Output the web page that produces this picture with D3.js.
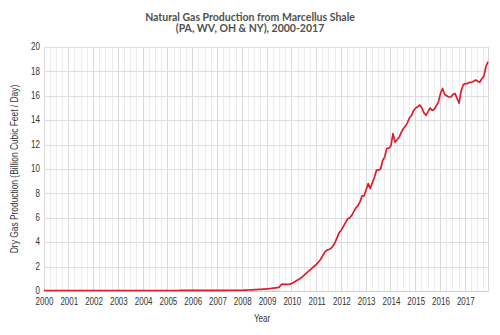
<!DOCTYPE html>
<html>
<head>
<meta charset="utf-8">
<script src="https://cdn.jsdelivr.net/npm/d3@7"></script>
<style>
  body { margin: 0; background: #fff; }
  .tick text { font-family: "Liberation Sans", Arial, sans-serif; }
</style>
</head>
<body>
<div id="chart"></div>
<script>
// monthly dry gas production, Bcf/d, Jan 2000 .. Dec 2017
const startYear = 2000;
const yearTicks = d3.range(2000, 2018);
const yTicks = [0, 2, 4, 6, 8, 10, 12, 14, 16, 18, 20];
const production = [
  0.04, 0.04, 0.04, 0.04, 0.04, 0.04, 0.04, 0.04, 0.04, 0.04, 0.04, 0.04, // 2000
  0.04, 0.04, 0.04, 0.04, 0.04, 0.04, 0.04, 0.04, 0.04, 0.04, 0.04, 0.04, // 2001
  0.04, 0.04, 0.04, 0.04, 0.04, 0.04, 0.04, 0.04, 0.04, 0.04, 0.04, 0.04, // 2002
  0.04, 0.04, 0.04, 0.04, 0.04, 0.04, 0.04, 0.04, 0.04, 0.04, 0.04, 0.04, // 2003
  0.04, 0.04, 0.04, 0.04, 0.04, 0.04, 0.04, 0.04, 0.04, 0.04, 0.04, 0.04, // 2004
  0.04, 0.04, 0.04, 0.04, 0.04, 0.04, 0.05, 0.05, 0.05, 0.05, 0.05, 0.05, // 2005
  0.05, 0.05, 0.05, 0.05, 0.05, 0.05, 0.05, 0.05, 0.05, 0.05, 0.05, 0.05, // 2006
  0.05, 0.05, 0.05, 0.05, 0.05, 0.06, 0.06, 0.06, 0.06, 0.06, 0.06, 0.06, // 2007
  0.06, 0.07, 0.07, 0.08, 0.09, 0.10, 0.11, 0.12, 0.13, 0.14, 0.15, 0.16, // 2008
  0.18, 0.20, 0.21, 0.23, 0.25, 0.27, 0.32, 0.55, 0.56, 0.55, 0.55, 0.56, // 2009
  0.62, 0.72, 0.82, 0.92, 1.02, 1.15, 1.30, 1.45, 1.60, 1.75, 1.90, 2.05, // 2010
  2.20, 2.40, 2.60, 2.90, 3.20, 3.35, 3.40, 3.50, 3.70, 4.00, 4.40, 4.80, // 2011
  5.00, 5.30, 5.60, 5.90, 6.00, 6.20, 6.50, 6.80, 7.00, 7.30, 7.80, 7.80, // 2012
  8.30, 8.80, 8.40, 8.90, 9.30, 9.90, 9.90, 10.0, 10.7, 11.0, 11.7, 11.7, // 2013
  11.9, 12.9, 12.2, 12.4, 12.6, 13.0, 13.3, 13.5, 13.8, 14.2, 14.4, 14.8, // 2014
  15.0, 15.1, 15.25, 15.0, 14.6, 14.4, 14.7, 15.0, 14.8, 14.9, 15.2, 15.5, // 2015
  16.2, 16.6, 16.1, 16.0, 15.9, 15.9, 16.1, 16.2, 15.8, 15.4, 16.4, 16.9, // 2016
  17.0, 17.0, 17.1, 17.1, 17.2, 17.3, 17.2, 17.1, 17.4, 17.6, 18.4, 18.8  // 2017
];

const width = 500, height = 335;
const margin = {top: 47, right: 12, bottom: 44, left: 44};
const squeeze = 'scale(0.8,1)';  // the reference uses a narrow face

const svg = d3.select('#chart').append('svg')
    .attr('width', width)
    .attr('height', height);

const x = d3.scaleLinear()
    .domain([startYear, startYear + (production.length - 1) / 12])
    .range([margin.left, width - margin.right]);

const y = d3.scaleLinear()
    .domain([0, 20])
    .range([height - margin.bottom, margin.top]);

// vertical grid: quarters light, years a bit darker
const quarters = d3.range(0, (production.length - 1) / 12, 0.25).map(d => startYear + d);
svg.append('g')
    .selectAll('line')
    .data(quarters)
    .enter()
    .append('line')
    .attr('x1', d => x(d))
    .attr('x2', d => x(d))
    .attr('y1', y(0))
    .attr('y2', y(20))
    .attr('stroke', d => Number.isInteger(d) ? '#d9d9d9' : '#ececec')
    .attr('stroke-width', 1)
    .attr('shape-rendering', 'crispEdges');

svg.append('line')
    .attr('x1', x.range()[1]).attr('x2', x.range()[1])
    .attr('y1', y(0)).attr('y2', y(20))
    .attr('stroke', '#d9d9d9')
    .attr('shape-rendering', 'crispEdges');

// horizontal grid
svg.append('g')
    .attr('transform', `translate(${margin.left},0)`)
    .call(d3.axisLeft(y).tickValues(yTicks).tickSize(-(width - margin.left - margin.right)).tickPadding(5))
    .call(g => g.select('.domain').remove())
    .call(g => g.selectAll('.tick line').attr('stroke', '#dedede').attr('shape-rendering', 'crispEdges'))
    .call(g => g.selectAll('.tick text').attr('fill', '#333').attr('font-size', 10)
        .attr('dy', '0.27em').attr('transform', squeeze));

// x axis
svg.append('g')
    .attr('transform', `translate(0,${y(0)})`)
    .call(d3.axisBottom(x).tickValues(yearTicks).tickFormat(d3.format('d')).tickSize(0).tickPadding(7))
    .call(g => g.select('.domain').attr('stroke', '#ccc'))
    .call(g => g.selectAll('.tick text').attr('fill', '#333').attr('font-size', 10).attr('transform', squeeze));

const line = d3.line()
    .x((d, i) => x(startYear + i / 12))
    .y(d => y(d));

svg.append('path')
    .datum(production)
    .attr('fill', 'none')
    .attr('stroke', '#e21b2c')
    .attr('stroke-width', 1.7)
    .attr('stroke-linejoin', 'round')
    .attr('d', line);

// titles
const title = svg.append('text')
    .attr('x', width / 2)
    .attr('text-anchor', 'middle')
    .attr('font-family', 'Lato, sans-serif')
    .attr('font-weight', 'bold')
    .attr('font-size', 10.5)
    .attr('fill', '#505050');
title.append('tspan').attr('x', width / 2).attr('y', 21).text('Natural Gas Production from Marcellus Shale');
title.append('tspan').attr('x', width / 2).attr('y', 32).text('(PA, WV, OH & NY), 2000-2017');

const midX = (x.range()[0] + x.range()[1]) / 2 - 4;
svg.append('text')
    .attr('transform', `translate(${midX},322) ${squeeze}`)
    .attr('text-anchor', 'middle')
    .attr('font-family', '"Liberation Sans", Arial, sans-serif')
    .attr('font-size', 10)
    .attr('fill', '#333')
    .text('Year');

svg.append('text')
    .attr('transform', `translate(18,${(y(0) + y(20)) / 2}) rotate(-90) ${squeeze}`)
    .attr('text-anchor', 'middle')
    .attr('font-family', '"Liberation Sans", Arial, sans-serif')
    .attr('font-size', 10.5)
    .attr('fill', '#333')
    .text('Dry Gas Production (Billion Cubic Feet / Day)');
</script>
</body>
</html>
